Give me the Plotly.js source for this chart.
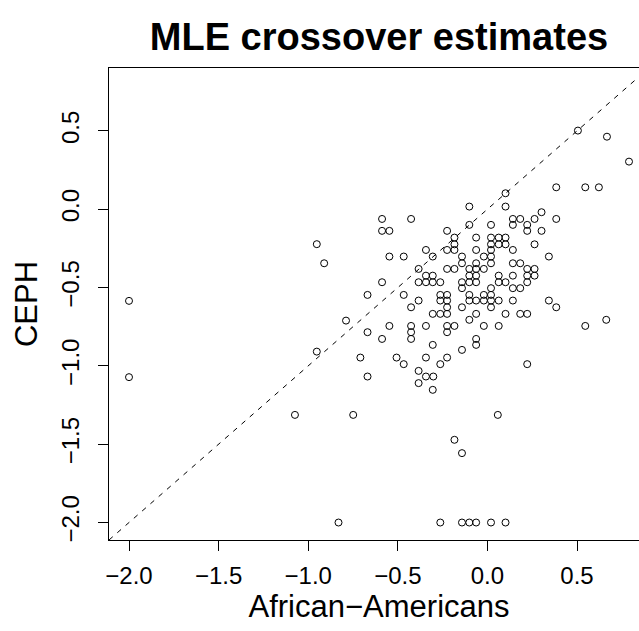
<!DOCTYPE html>
<html>
<head>
<meta charset="utf-8">
<script src="https://cdn.plot.ly/plotly-3.0.1.min.js"></script>
<style>
  html, body { margin: 0; padding: 0; overflow: hidden; background: #fff; }
  #chart { width: 650px; height: 631px; }
</style>
</head>
<body>
<div id="chart"></div>
<script>
// African-Americans MLE estimate (x) and CEPH MLE estimate (y)
const africanAmericans = [
  0.790, 0.384, 0.546, 0.622, 0.101, -0.101, 0.101, 0.302,
  -0.588, -0.426, 0.142, 0.183, 0.263, 0.384,
  -0.101, 0.020, 0.142, 0.222,
  -0.588, -0.547, -0.225, 0.222, 0.302,
  -0.184, -0.063, 0.020, 0.063, 0.101,
  -0.184, 0.020, 0.063, 0.101, 0.263,
  -0.343, -0.225, -0.184, -0.063, 0.020, 0.142,
  -0.547, -0.467, -0.305, -0.142, -0.020, 0.020, 0.343,
  -0.142, -0.063, 0.020, 0.142, 0.183,
  -0.384, -0.225, -0.184, -0.101, -0.063, -0.020, 0.222, 0.263,
  -0.343, -0.305, -0.101, -0.063, 0.063, 0.142, 0.222, 0.263,
  -0.588, -0.384, -0.343, -0.305, -0.263, -0.142, -0.101, -0.063, 0.063, 0.101, 0.222,
  -0.142, 0.020, 0.142, 0.183,
  -0.669, -0.467, -0.263, -0.225, -0.101, -0.020, 0.020,
  -0.384, -0.263, -0.225, -0.101, -0.063, -0.020, 0.020, 0.063, 0.142, 0.343,
  -0.426, -0.225, -0.142, 0.020, 0.384,
  -0.305, -0.263, -0.225, -0.063, 0.101, 0.183, 0.222,
  -0.101, 0.663,
  -0.547, -0.426, -0.343, -0.225, -0.184, -0.020, 0.063, 0.546,
  -0.669, -0.426, -0.225,
  -0.588, -0.426, -0.063,
  -0.305, -0.063,
  -0.142,
  -2.000, -2.000, -0.952, -0.911, -0.789, -0.952, -0.709, -0.669,
  -1.074, -0.749, -0.831,
  -0.507, -0.467, -0.343, -0.225, -0.263, -0.384, -0.343, -0.302, -0.384, -0.305,
  0.222, 0.058, -0.184, -0.142,
  -0.263, -0.142, -0.101, -0.063, 0.020, 0.101,
  0.505, 0.667
];
const ceph = [
  0.304, 0.140, 0.140, 0.140, 0.102, 0.017, 0.017, -0.019,
  -0.062, -0.062, -0.062, -0.062, -0.062, -0.062,
  -0.100, -0.100, -0.100, -0.100,
  -0.138, -0.138, -0.138, -0.138, -0.138,
  -0.181, -0.181, -0.181, -0.181, -0.181,
  -0.224, -0.224, -0.224, -0.224, -0.224,
  -0.260, -0.260, -0.260, -0.260, -0.260, -0.260,
  -0.302, -0.302, -0.302, -0.302, -0.302, -0.302, -0.302,
  -0.345, -0.345, -0.345, -0.345, -0.345,
  -0.381, -0.381, -0.381, -0.381, -0.381, -0.381, -0.381, -0.381,
  -0.424, -0.424, -0.424, -0.424, -0.424, -0.424, -0.424, -0.424,
  -0.466, -0.466, -0.466, -0.466, -0.466, -0.466, -0.466, -0.466, -0.466, -0.466, -0.466,
  -0.504, -0.504, -0.504, -0.504,
  -0.547, -0.547, -0.547, -0.547, -0.547, -0.547, -0.547,
  -0.583, -0.583, -0.583, -0.583, -0.583, -0.583, -0.583, -0.583, -0.583, -0.583,
  -0.626, -0.626, -0.626, -0.626, -0.626,
  -0.668, -0.668, -0.668, -0.668, -0.668, -0.668, -0.668,
  -0.706, -0.706,
  -0.745, -0.745, -0.745, -0.745, -0.745, -0.745, -0.745, -0.745,
  -0.785, -0.785, -0.785,
  -0.828, -0.828, -0.828,
  -0.866, -0.866,
  -0.898,
  -0.585, -1.072, -0.223, -0.345, -0.711, -0.909, -0.947, -1.068,
  -1.313, -1.313, -2.000,
  -0.947, -0.989, -0.947, -0.947, -0.989, -1.032, -1.068, -1.068, -1.110, -1.153,
  -0.989, -1.313, -1.472, -1.557,
  -2.000, -2.000, -2.000, -2.000, -2.000, -2.000,
  0.502, 0.463
];
const tickValues = [-2.0, -1.5, -1.0, -0.5, 0.0, 0.5];
const tickLabels = ['\u22122.0', '\u22121.5', '\u22121.0', '\u22120.5', '0.0', '0.5'];

// R-style axis limits: common data range extended by 4%
const all = africanAmericans.concat(ceph);
const lo = Math.min(...all), hi = Math.max(...all);
const pad = 0.04 * (hi - lo);
const axisRange = [lo - pad, hi + pad];

const FONT = 'Liberation Sans, Arial, Helvetica, sans-serif';

const points = {
  x: africanAmericans, y: ceph, type: 'scatter', mode: 'markers',
  marker: { symbol: 'circle-open', size: 7, color: '#000', line: { width: 1, color: '#000' } },
  hoverinfo: 'x+y', showlegend: false
};
const diagonal = {
  x: axisRange, y: axisRange, type: 'scatter', mode: 'lines',
  line: { color: '#000', width: 1, dash: '5px,6px' },
  hoverinfo: 'skip', showlegend: false
};

const axisCommon = {
  range: axisRange, autorange: false,
  tickmode: 'array', tickvals: tickValues, ticktext: tickLabels,
  ticks: 'outside', ticklen: 10, tickwidth: 1, tickcolor: '#000',
  showline: true, mirror: true, linecolor: '#000', linewidth: 1,
  showgrid: false, zeroline: false,
  tickfont: { family: FONT, size: 24, color: '#000' }
};

const layout = {
  width: 650, height: 631,
  margin: { l: 109, r: 1, t: 68, b: 91 },
  paper_bgcolor: '#fff', plot_bgcolor: '#fff',
  font: { family: FONT, color: '#000' },
  title: {
    text: '<b>MLE crossover estimates</b>',
    font: { family: FONT, size: 38, color: '#000' },
    x: 0.5, xref: 'paper', xanchor: 'center',
    y: 1 - 37 / 631, yref: 'container', yanchor: 'middle'
  },
  xaxis: Object.assign({}, axisCommon, {
    ticklabelstandoff: 4,
    title: { text: 'African\u2212Americans', font: { family: FONT, size: 31, color: '#000' }, standoff: 5 }
  }),
  yaxis: Object.assign({}, axisCommon, {
    tickangle: -90,
    ticklabelstandoff: 9,
    title: { text: 'CEPH', font: { family: FONT, size: 31, color: '#000' }, standoff: 10 }
  })
};

Plotly.newPlot('chart', [diagonal, points], layout, { staticPlot: true, displayModeBar: false });
</script>
</body>
</html>
